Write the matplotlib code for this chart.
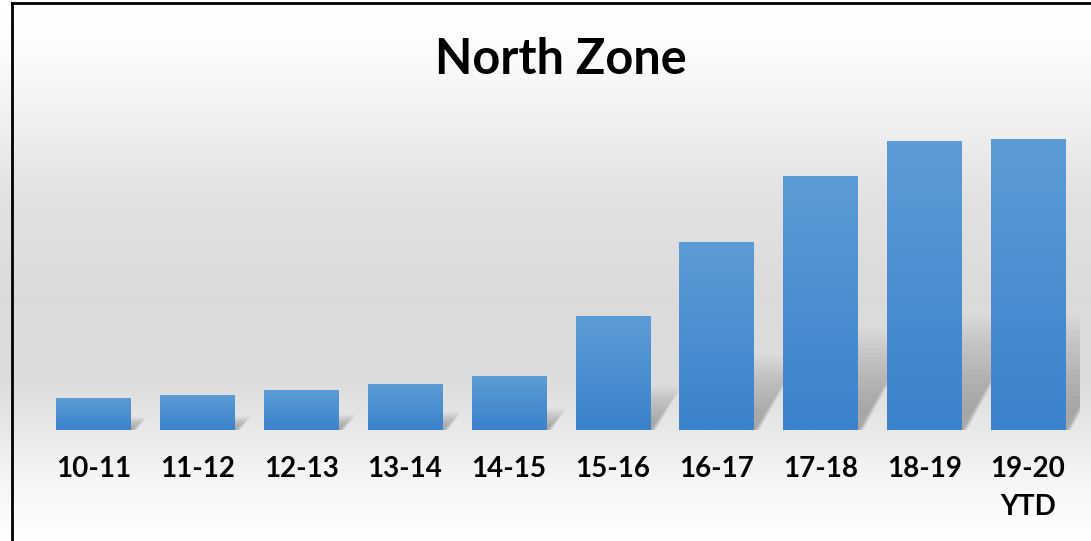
import numpy as np
import matplotlib
matplotlib.use("Agg")
from matplotlib import pyplot as plt
from matplotlib.colors import LinearSegmentedColormap
from matplotlib.patches import Polygon

# data (arbitrary units, no value axis shown)
years = ["10-11", "11-12", "12-13", "13-14", "14-15",
         "15-16", "16-17", "17-18", "18-19", "19-20\nYTD"]
values = [32, 35, 40, 46, 54, 113, 188, 253, 288, 290]

plt.rcParams['font.family'] = ['Lato', 'DejaVu Sans']

fig = plt.figure(figsize=(10.91, 5.41), dpi=100)

# background: vertical gray gradient
bg = fig.add_axes([0, 0, 1, 1], zorder=-10)
rows = np.array([0, 50, 100, 150, 200, 300, 380, 430, 470, 541])
grey = np.array([255, 251, 243, 234, 225, 218, 220, 232, 243, 254]) / 255
g = np.interp(np.arange(541), rows, grey)
bg.imshow(np.repeat(g[:, None], 2, axis=1), cmap='gray', vmin=0, vmax=1,
          aspect='auto', extent=(0, 1, 0, 1))
bg.set_axis_off()

# border (left and top visible)
fig.add_artist(plt.Line2D([12 / 1091, 12 / 1091], [0, 1 - 3 / 541], color='black', lw=2))
fig.add_artist(plt.Line2D([12 / 1091, 1], [1 - 3 / 541, 1 - 3 / 541], color='black', lw=2))

ax = fig.add_axes([41.5 / 1091, 111 / 541, (1080 - 41.5) / 1091, 319 / 541])
ax.patch.set_alpha(0)
x = np.arange(len(values))
w = 0.715

bar_cmap = LinearSegmentedColormap.from_list("b", ["#3a82cb", "#5c9cd6"])
grad = np.linspace(0, 1, 100)[:, None]

px = 1 / 103.9  # x data units per pixel
for xi, h in zip(x, values):
    xl, xr = xi - w / 2, xi + w / 2
    # soft cast shadow, built from stacked faint layers
    a = 0.20 * h * px
    b = 0.40 * h
    for s in np.linspace(1.0, 0.2, 18):
        pts = [(xl, 0), (xr + 6 * px * s, 0), (xr + a * s + 10 * px * s, b * s),
               (xl + a * s, b * s)]
        ax.add_patch(Polygon(pts, closed=True, color='#666666', alpha=0.03,
                             lw=0, zorder=1))
    ax.bar(xi, h, width=w, color='#4a8fd1', zorder=2)
    ax.imshow(grad, cmap=bar_cmap, aspect='auto', origin='lower',
              extent=(xl, xr, 0, h), zorder=3)

ax.set_xlim(-0.5, len(values) - 0.5)
ax.set_ylim(0, 319)
ax.set_xticks(x)
ax.set_xticklabels(years, fontsize=20, fontweight='bold', va='top', linespacing=1.55)
ax.tick_params(axis='x', length=0, pad=19)
ax.set_yticks([])
for sp in ax.spines.values():
    sp.set_visible(False)

fig.text(561 / 1091, 1 - 60 / 541, "North Zone", ha='center', va='center',
         fontsize=35, fontweight='bold')

fig.savefig("out.png", dpi=100)
